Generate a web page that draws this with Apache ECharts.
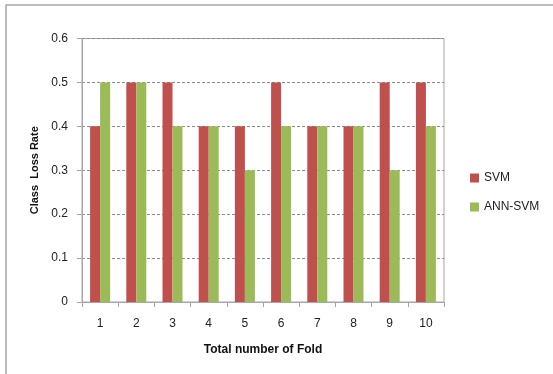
<!DOCTYPE html>
<html>
<head>
<meta charset="utf-8">
<style>
  html, body { margin: 0; padding: 0; background: #fff; }
  #chart { width: 553px; height: 374px; }
</style>
<script src="https://cdn.jsdelivr.net/npm/echarts@6/dist/echarts.min.js"></script>
</head>
<body>
<div id="chart"></div>
<script>
// Fold numbers along the x axis
const folds = ['1', '2', '3', '4', '5', '6', '7', '8', '9', '10'];
// Class loss rate per fold
const svm = [0.4, 0.5, 0.5, 0.4, 0.4, 0.5, 0.4, 0.4, 0.5, 0.5];
const annSvm = [0.5, 0.5, 0.4, 0.4, 0.3, 0.4, 0.4, 0.4, 0.3, 0.4];
// y-axis ticks
const yTicks = [0, 0.1, 0.2, 0.3, 0.4, 0.5, 0.6];

const font = 'Liberation Sans, Arial, sans-serif';
const chart = echarts.init(document.getElementById('chart'), null, { renderer: 'canvas' });

chart.setOption({
  animation: false,
  backgroundColor: '#fff',
  graphic: [{
    type: 'rect',
    shape: { x: 6, y: 5, width: 600, height: 400 },
    style: { fill: 'none', stroke: '#a6a6a6', lineWidth: 1.5 },
    silent: true
  }],
  grid: {
    left: 82, right: 109, top: 38.5, bottom: 72,
    show: true, borderColor: '#a6a6a6', borderWidth: 1,
    containLabel: false
  },
  legend: {
    orient: 'vertical',
    left: 465, top: 167,
    itemWidth: 9, itemHeight: 9, itemGap: 17,
    icon: 'rect',
    textStyle: { fontFamily: font, fontSize: 12, color: '#222' },
    data: ['SVM', 'ANN-SVM']
  },
  xAxis: {
    type: 'category',
    data: folds,
    name: 'Total number of Fold',
    nameLocation: 'middle',
    nameGap: 42,
    nameTextStyle: { fontFamily: font, fontSize: 12, fontWeight: 'bold', color: '#111' },
    axisLine: { lineStyle: { color: '#a6a6a6', width: 1 } },
    axisTick: { show: true, length: 5, alignWithLabel: false, lineStyle: { color: '#a6a6a6' } },
    axisLabel: { margin: 16, fontFamily: font, fontSize: 12, color: '#222' }
  },
  yAxis: {
    type: 'value',
    min: yTicks[0], max: yTicks[yTicks.length - 1], interval: 0.1,
    name: 'Class  Loss Rate',
    nameLocation: 'middle',
    nameRotate: 90,
    nameGap: 41,
    nameTextStyle: { fontFamily: font, fontSize: 11, fontWeight: 'bold', color: '#111' },
    axisLine: { show: true, lineStyle: { color: '#a6a6a6', width: 1 } },
    axisTick: { show: true, inside: false, length: 5, lineStyle: { color: '#a6a6a6' } },
    axisLabel: {
      margin: 14, fontFamily: font, fontSize: 12, color: '#222',
      formatter: v => (Math.round(v * 10) / 10).toString()
    },
    splitLine: { show: true, lineStyle: { color: '#8c8c8c', type: [3, 2], width: 1 } }
  },
  series: [
    {
      name: 'SVM', type: 'bar', data: svm,
      barWidth: 10, barGap: '0%',
      itemStyle: { color: '#C0504D' }
    },
    {
      name: 'ANN-SVM', type: 'bar', data: annSvm,
      barWidth: 10, barGap: '0%',
      itemStyle: { color: '#9BBB59' }
    }
  ]
});
</script>
</body>
</html>
